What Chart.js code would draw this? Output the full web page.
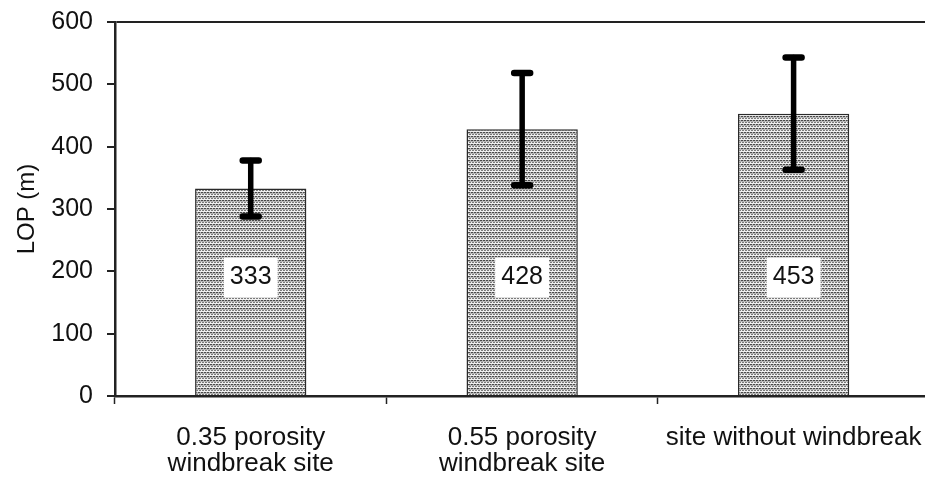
<!DOCTYPE html>
<html>
<head>
<meta charset="utf-8">
<script src="https://cdn.jsdelivr.net/npm/chart.js@4.4.1/dist/chart.umd.min.js"></script>
<style>
  html, body { margin: 0; padding: 0; background: #fff; overflow: hidden; }
  #wrap { position: relative; width: 945px; height: 479px; }
</style>
</head>
<body>
<div id="wrap"><canvas id="chart"></canvas></div>
<script>
// Sites compared
const categories = [
  ['0.35 porosity', 'windbreak site'],
  ['0.55 porosity', 'windbreak site'],
  'site without windbreak'
];
// Mean LOP (m) per site
const lopMeans = [333, 428, 453];
// Spread shown by the whiskers (m)
const lopSpread = [45, 90, 90];
// Value axis ticks
const yTicks = [0, 100, 200, 300, 400, 500, 600];
// Height (m) at which the value boxes sit
const labelLevel = 190;

const FONT = "'Liberation Sans', Arial, sans-serif";

// Dotted grey fill for the bars
function makeDotPattern() {
  const c = document.createElement('canvas');
  c.width = 6; c.height = 4;
  const g = c.getContext('2d');
  g.fillStyle = '#f0f0f0';
  g.fillRect(0, 0, 6, 4);
  g.fillStyle = '#4a4a4a';
  g.fillRect(0, 0, 2, 1);
  g.fillRect(3, 0, 2, 1);
  g.fillStyle = '#7a7a7a';
  g.fillRect(1, 2, 2, 1);
  g.fillRect(4, 2, 2, 1);
  g.fillStyle = '#b8b8b8';
  g.fillRect(0, 1, 6, 1);
  g.fillRect(2, 0, 1, 1);
  g.fillRect(5, 0, 1, 1);
  return g.createPattern(c, 'repeat');
}

// Whiskers with rounded caps
const errorBars = {
  id: 'errorBars',
  afterDatasetsDraw(chart) {
    const meta = chart.getDatasetMeta(0);
    const y = chart.scales.y;
    const ctx = chart.ctx;
    ctx.save();
    ctx.strokeStyle = '#000';
    ctx.lineCap = 'round';
    meta.data.forEach((bar, i) => {
      const x = bar.x;
      const top = y.getPixelForValue(lopMeans[i] + lopSpread[i]);
      const bot = y.getPixelForValue(lopMeans[i] - lopSpread[i]);
      ctx.lineWidth = 5.5;
      ctx.beginPath();
      ctx.moveTo(x, top);
      ctx.lineTo(x, bot);
      ctx.stroke();
      ctx.lineWidth = 6.5;
      ctx.beginPath();
      ctx.moveTo(x - 8, top); ctx.lineTo(x + 8, top);
      ctx.moveTo(x - 8, bot); ctx.lineTo(x + 8, bot);
      ctx.stroke();
    });
    ctx.restore();
  }
};

// White boxes stating each mean
const valueBoxes = {
  id: 'valueBoxes',
  afterDatasetsDraw(chart) {
    const meta = chart.getDatasetMeta(0);
    const y = chart.scales.y;
    const ctx = chart.ctx;
    const yc = y.getPixelForValue(labelLevel);
    ctx.save();
    ctx.font = '25px ' + FONT;
    ctx.textAlign = 'center';
    ctx.textBaseline = 'middle';
    meta.data.forEach((bar, i) => {
      ctx.fillStyle = '#fff';
      ctx.fillRect(bar.x - 27, yc - 20, 54, 40);
      ctx.fillStyle = '#111';
      ctx.fillText(String(lopMeans[i]), bar.x, yc);
    });
    ctx.restore();
  }
};

new Chart(document.getElementById('chart'), {
  type: 'bar',
  data: {
    labels: categories,
    datasets: [{
      data: lopMeans,
      backgroundColor: makeDotPattern(),
      borderColor: '#2a2a2a',
      borderWidth: 1.5,
      borderSkipped: 'bottom',
      categoryPercentage: 1,
      barPercentage: 0.41
    }]
  },
  options: {
    responsive: true,
    maintainAspectRatio: false,
    animation: false,
    layout: { padding: { top: 22, right: 15, left: 0, bottom: 0 } },
    plugins: { legend: { display: false }, tooltip: { enabled: false } },
    scales: {
      x: {
        grid: {
          offset: true,
          drawOnChartArea: false,
          drawTicks: true,
          tickLength: 8,
          tickWidth: 1.5,
          tickColor: '#222'
        },
        border: { color: '#222', width: 2.5 },
        ticks: {
          color: '#111',
          font: { family: FONT, size: 26, lineHeight: 1.0 },
          padding: 21,
          maxRotation: 0,
          autoSkip: false
        },
        afterFit(scale) { scale.height = 83; }
      },
      y: {
        min: 0,
        max: 600,
        afterBuildTicks(scale) { scale.ticks = yTicks.map(v => ({ value: v })); },
        grid: {
          drawOnChartArea: true,
          tickLength: 8,
          lineWidth: 2,
          color: (c) => (c.tick && c.tick.value === 600 ? '#222' : 'rgba(0,0,0,0)'),
          tickColor: '#222'
        },
        border: { color: '#222', width: 2.5 },
        ticks: {
          color: '#111',
          font: { family: FONT, size: 25 },
          padding: 14
        },
        title: {
          display: true,
          text: 'LOP (m)',
          color: '#111',
          font: { family: FONT, size: 24 },
          padding: { top: 13, bottom: 0 }
        },
        afterFit(scale) {
          scale.width = 115;
          scale.paddingTop = 0;
          scale.paddingBottom = 0;
        }
      }
    }
  },
  plugins: [errorBars, valueBoxes]
});
</script>
</body>
</html>
